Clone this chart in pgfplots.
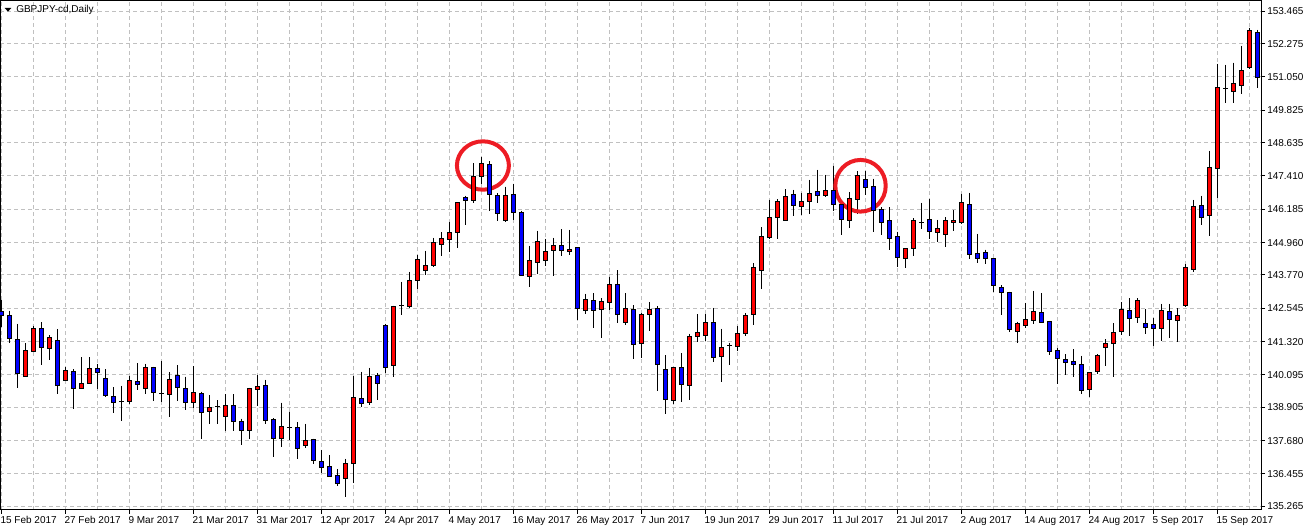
\documentclass[border=0pt]{standalone}
\usepackage{pgfplots}
\pgfplotsset{compat=1.18}
\usepackage{pgfplotstable}
\usepackage{fontspec}
\setmainfont{Liberation Sans}
\definecolor{candlered}{RGB}{255,0,0}
\definecolor{candleblue}{RGB}{0,0,255}
\definecolor{gridgray}{RGB}{192,192,192}
\definecolor{circred}{RGB}{237,28,36}

\pgfplotstableread{
i o h l c
0 142.420 142.850 141.857 142.273
1 142.262 142.457 141.258 141.427
2 141.405 141.968 139.625 140.140
3 140.055 141.258 140.030 141.000
4 140.949 141.894 140.940 141.809
5 141.809 142.041 140.471 141.096
6 141.059 141.563 140.644 141.478
7 141.368 141.773 139.394 139.699
8 139.897 140.375 139.883 140.276
9 140.239 140.302 138.831 139.603
10 139.588 140.743 139.566 139.787
11 139.787 140.743 139.780 140.339
12 140.339 140.497 139.566 140.191
13 139.971 140.302 139.272 139.331
14 139.309 139.640 138.706 139.088
15 139.110 139.688 138.412 139.105
16 139.110 140.055 139.026 139.897
17 139.861 140.522 139.552 139.736
18 139.588 140.497 139.405 140.375
19 140.375 140.397 139.147 139.456
20 139.430 140.607 139.099 139.394
21 139.383 140.191 138.559 139.934
22 140.081 140.449 139.147 139.640
23 139.603 140.030 138.816 139.074
24 139.074 140.423 138.890 139.456
25 139.405 139.478 137.750 138.721
26 138.758 139.357 138.302 138.905
27 138.927 139.173 138.302 138.920
28 138.574 139.383 138.033 138.963
29 138.970 139.387 138.044 138.390
30 138.390 138.485 137.529 138.059
31 138.059 139.620 137.750 139.603
32 139.566 140.092 138.952 139.677
33 139.714 139.909 138.302 138.427
34 138.463 138.500 137.088 137.750
35 137.765 139.074 137.456 138.206
36 138.180 138.743 137.713 138.175
37 138.170 138.364 137.015 137.397
38 137.507 138.291 137.419 137.691
39 137.728 137.750 136.831 136.956
40 136.919 137.335 136.500 136.684
41 136.735 137.140 136.360 136.367
42 136.404 136.636 136.000 136.110
43 136.294 137.004 135.606 136.845
44 136.831 140.055 136.121 139.272
45 139.236 140.203 138.927 139.037
46 139.074 140.350 138.989 140.044
47 140.092 140.155 139.173 139.772
48 141.920 141.968 140.177 140.361
49 140.434 142.640 140.030 142.593
50 142.655 143.512 142.298 142.660
51 142.629 143.880 142.556 143.549
52 143.560 144.505 143.266 144.321
53 143.942 144.652 143.769 144.126
54 144.111 145.130 144.074 144.946
55 144.883 145.350 144.468 145.119
56 145.067 145.718 144.615 145.314
57 145.339 146.450 144.762 146.442
58 146.626 146.674 145.619 146.516
59 146.501 147.887 146.428 147.398
60 147.398 148.108 147.104 147.876
61 147.840 147.950 146.134 146.737
62 146.700 146.773 145.766 146.038
63 145.780 147.016 145.729 146.700
64 146.737 147.126 145.792 146.075
65 146.075 146.123 143.732 143.744
66 143.721 144.836 143.339 144.310
67 144.236 145.387 143.806 145.008
68 144.310 145.093 144.100 144.641
69 144.677 145.130 143.732 144.861
70 144.861 145.450 144.468 144.677
71 144.641 145.424 144.505 144.725
72 144.762 144.780 142.115 142.537
73 142.457 143.071 142.335 142.876
74 142.839 143.107 141.820 142.471
75 142.493 142.913 141.453 142.802
76 142.765 143.707 142.493 143.427
77 143.427 143.953 142.015 142.324
78 142.030 143.107 141.942 142.545
79 142.508 142.655 140.681 141.221
80 141.258 142.372 140.717 142.324
81 142.324 142.776 141.721 142.508
82 142.545 142.618 139.504 140.486
83 140.302 140.817 138.658 139.199
84 139.162 140.397 139.026 140.375
85 140.375 140.890 139.099 139.736
86 139.699 141.600 139.173 141.515
87 141.501 142.335 141.306 141.662
88 141.537 142.335 141.342 142.030
89 142.030 142.556 140.581 140.728
90 140.765 141.784 139.846 141.111
91 141.170 141.280 140.460 141.165
92 141.133 141.894 140.975 141.600
93 141.611 142.361 141.537 142.298
94 142.310 144.199 141.942 144.052
95 143.927 145.523 143.266 145.192
96 145.141 146.527 145.104 145.891
97 145.880 146.553 145.093 146.479
98 145.780 146.931 145.744 146.663
99 146.711 146.895 145.950 146.317
100 146.295 146.785 145.976 146.479
101 146.472 147.263 146.013 146.773
102 146.847 147.631 146.428 146.685
103 146.700 147.447 146.649 146.884
104 146.884 147.788 146.123 146.369
105 146.369 146.380 145.251 145.817
106 145.780 146.810 145.508 146.575
107 146.553 147.582 146.001 147.435
108 147.288 147.582 146.722 146.994
109 147.031 147.310 145.361 146.148
110 146.185 146.259 145.240 145.707
111 145.780 146.259 144.677 145.104
112 145.192 145.361 144.052 144.420
113 144.383 144.760 144.016 144.751
114 144.751 145.854 144.479 145.780
115 145.707 146.417 145.472 145.712
116 145.828 146.564 145.093 145.376
117 145.339 145.792 144.994 145.478
118 145.266 145.891 144.810 145.755
119 145.707 146.159 145.399 145.755
120 145.693 146.748 145.656 146.442
121 146.369 146.785 144.358 144.530
122 144.556 145.277 144.222 144.383
123 144.580 144.700 144.174 144.358
124 144.358 144.369 143.155 143.391
125 143.302 143.391 142.287 143.133
126 143.133 143.155 141.673 141.773
127 141.699 142.052 141.258 141.993
128 141.920 142.740 141.809 142.140
129 142.104 143.181 141.957 142.420
130 142.398 143.107 142.020 142.030
131 142.067 142.078 140.839 140.949
132 141.000 141.074 139.772 140.692
133 140.670 140.853 140.092 140.545
134 140.596 141.037 140.030 140.486
135 140.486 140.791 139.405 139.515
136 139.566 140.200 139.294 140.191
137 140.214 140.853 140.140 140.791
138 141.111 141.405 140.434 141.258
139 141.258 141.993 140.008 141.662
140 141.699 142.765 141.574 142.508
141 142.471 142.913 141.537 142.177
142 142.214 142.913 141.993 142.839
143 141.993 142.519 141.589 141.846
144 141.931 142.188 141.170 141.809
145 141.809 142.703 141.342 142.471
146 142.435 142.703 141.463 142.140
147 142.104 142.545 141.317 142.298
148 142.640 144.163 142.581 144.052
149 143.979 146.527 143.891 146.295
150 146.332 146.674 145.619 145.891
151 145.964 148.329 145.214 147.729
152 147.693 151.528 146.612 150.671
153 150.634 151.491 150.105 150.640
154 150.524 151.576 150.105 150.818
155 150.744 152.190 150.436 151.296
156 151.392 152.862 151.355 152.767
157 152.693 152.778 150.656 151.038
}\candles

\begin{document}
\begin{tikzpicture}
\pgfplotsset{
  base/.style={scale only axis, width=945.75pt, height=381.75pt,
    xmin=-0.1625, xmax=157.46, ymin=135.129, ymax=153.844, clip=true},
}
\begin{axis}[base, name=ax,
  axis line style={black, line width=0.75pt},
  xtick={0,8,...,152},
  xticklabels={15 Feb 2017,27 Feb 2017,9 Mar 2017,21 Mar 2017,31 Mar 2017,12 Apr 2017,24 Apr 2017,4 May 2017,16 May 2017,26 May 2017,7 Jun 2017,19 Jun 2017,29 Jun 2017,11 Jul 2017,21 Jul 2017,2 Aug 2017,14 Aug 2017,24 Aug 2017,5 Sep 2017,15 Sep 2017},
  minor xtick={4,12,...,156},
  ytick={135.265,136.455,137.680,138.905,140.095,141.320,142.545,143.770,144.960,146.185,147.410,148.635,149.825,151.050,152.275,153.465},
  xmajorgrids, xminorgrids, ymajorgrids,
  major grid style={gridgray, line width=0.75pt, dash pattern=on 3pt off 2.25pt},
  minor grid style={gridgray, line width=0.75pt, dash pattern=on 3pt off 2.25pt},
  tick align=outside, xtick pos=bottom, ytick pos=right, yticklabel pos=right,
  major tick length=3pt, minor tick length=0pt,
  tick style={black, line width=0.75pt},
  tick label style={font=\fontsize{7.5}{9}\selectfont, text=black},
  xticklabel style={anchor=north west, inner sep=0pt, xshift=-0.75pt, yshift=-1.5pt},
  yticklabel style={anchor=west, inner sep=0pt, xshift=1.5pt,
    /pgf/number format/.cd, fixed, fixed zerofill, precision=3, 1000 sep={}, assume math mode=true},
]
\addplot[only marks, black, line width=0.75pt, mark options={draw=none, fill=none}, mark size=0pt,
  error bars/.cd, y dir=minus, y explicit, error mark=none,
  error bar style={black, line width=0.75pt}]
  table[x=i, y=h, y error minus expr={\thisrow{h}-\thisrow{l}}] {\candles};
\end{axis}
\begin{axis}[base, hide axis, ybar stacked, bar width=3pt]
\addplot[draw=none, fill=none] table[x=i, y expr={min(\thisrow{o},\thisrow{c})}] {\candles};
\addplot[fill=candlered, draw=black, line width=0.75pt] table[x=i, y expr={max(\thisrow{c}-\thisrow{o},0)}] {\candles};
\addplot[fill=candleblue, draw=black, line width=0.75pt] table[x=i, y expr={max(\thisrow{o}-\thisrow{c},0)}] {\candles};
\draw[circred, line width=3pt] (axis cs:60.2,147.795) ellipse [x radius=3.25, y radius=0.89];
\draw[circred, line width=3pt] (axis cs:107.4,147.05) ellipse [x radius=3.15, y radius=0.95];
\end{axis}
\fill[black] ([xshift=3.5pt,yshift=-5.2pt]ax.north west) -- ++(5pt,0) -- ++(-2.5pt,-2.8pt) -- cycle;
\node[anchor=west, inner sep=0pt, font=\fontsize{7.5}{9}\selectfont] at ([xshift=12pt, yshift=-6.9pt]ax.north west) {GBPJPY-cd,Daily};
\pgfresetboundingbox
\path[use as bounding box] ([yshift=0.75pt]ax.north west) rectangle ([xshift=33.75pt, yshift=-12pt]ax.south east);
\end{tikzpicture}
\end{document}
